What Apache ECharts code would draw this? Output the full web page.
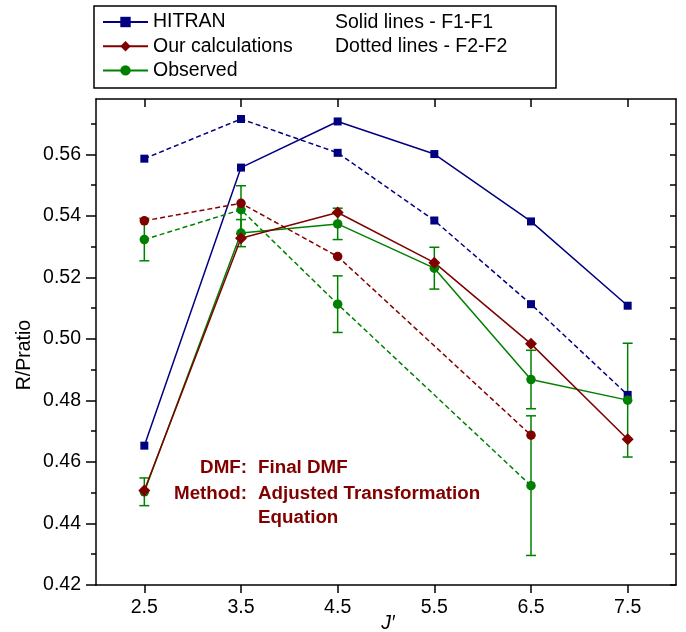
<!DOCTYPE html>
<html>
<head>
<meta charset="utf-8">
<script src="https://cdn.jsdelivr.net/npm/echarts@6/dist/echarts.min.js"></script>
<style>
html,body{margin:0;padding:0;background:#fff;}
#chart{width:686px;height:632px;}
</style>
</head>
<body>
<div id="chart"></div>
<script>
// ---- data ----
var jValues = [2.5, 3.5, 4.5, 5.5, 6.5, 7.5];
var hitranF1 = [0.4653, 0.5557, 0.5707, 0.5601, 0.5382, 0.5108];
var hitranF2 = [0.5586, 0.5715, 0.5605, 0.5385, 0.5113, 0.4818];
var calcF1 = [0.4507, 0.5327, 0.5411, 0.5248, 0.4984, 0.4674];
var calcF2 = [0.5384, 0.5441, 0.5268, null, 0.4687, null];
var obsF1 = [0.4503, 0.5344, 0.5374, 0.5230, 0.4868, 0.4801];
var obsF1Err = [0.0045, 0.0044, 0.0051, 0.0068, 0.0095, 0.0185];
var obsF2 = [0.5323, 0.5420, 0.5113, null, 0.4523, null];
var obsF2Err = [0.0069, 0.0078, 0.0092, null, 0.0227, null];
var xTicks = [2.5, 3.5, 4.5, 5.5, 6.5, 7.5];
var yTicks = [0.42, 0.44, 0.46, 0.48, 0.50, 0.52, 0.54, 0.56];
var yMinorTicks = [0.43, 0.45, 0.47, 0.49, 0.51, 0.53, 0.55, 0.57];
var legendNames = ['HITRAN', 'Our calculations', 'Observed'];
var noteLabels = ['DMF:', 'Method:'];
var noteValues = ['Final DMF', 'Adjusted Transformation', 'Equation'];
var sideNotes = ['Solid lines - F1-F1', 'Dotted lines - F2-F2'];
var xTitle = 'J\u2032';
var yTitle = 'R/Pratio';

// ---- helpers ----
var BLUE = '#000080', RED = '#800000', GREEN = '#008000';
var FONT = 'Liberation Sans, Arial, sans-serif';
var FS = 19.5;
function pairs(ys) { return jValues.map(function (x, i) { return [x, ys[i]]; }); }
function errData(ys, es) {
  var out = [];
  jValues.forEach(function (x, i) { if (ys[i] != null && es[i] != null) out.push([x, ys[i], es[i]]); });
  return out;
}
function lineSeries(name, ys, color, symbol, size, dashed) {
  return {
    type: 'line', name: name, data: pairs(ys), connectNulls: true,
    symbol: symbol, symbolSize: size,
    itemStyle: { color: color },
    lineStyle: { color: color, width: 1.5, type: dashed ? [5, 3] : 'solid' },
    emphasis: { disabled: true }, silent: true
  };
}
function errSeries(name, ys, es, color) {
  return {
    type: 'custom', name: name, data: errData(ys, es),
    encode: { x: 0, y: 1 }, silent: true,
    renderItem: function (params, api) {
      var x = api.value(0), y = api.value(1), e = api.value(2);
      var top = api.coord([x, y + e]), bot = api.coord([x, y - e]);
      var hw = 5;
      var st = { stroke: color, lineWidth: 1.5 };
      return { type: 'group', children: [
        { type: 'line', shape: { x1: top[0], y1: top[1], x2: bot[0], y2: bot[1] }, style: st },
        { type: 'line', shape: { x1: top[0] - hw, y1: top[1], x2: top[0] + hw, y2: top[1] }, style: st },
        { type: 'line', shape: { x1: bot[0] - hw, y1: bot[1], x2: bot[0] + hw, y2: bot[1] }, style: st }
      ] };
    }
  };
}
var axisLineStyle = { show: true, lineStyle: { color: '#000', width: 1.5 } };

var chart = echarts.init(document.getElementById('chart'), null, { renderer: 'canvas' });
chart.setOption({
  animation: false,
  backgroundColor: '#fff',
  textStyle: { fontFamily: FONT },
  grid: { left: 96, right: 10, top: 99, bottom: 47, containLabel: false, outerBoundsMode: 'none' },
  legend: {
    data: legendNames, orient: 'vertical', left: 102, top: 12, padding: 0,
    itemWidth: 45, itemHeight: 13, itemGap: 4.2,
    textStyle: { fontSize: FS, color: '#000', fontFamily: FONT, lineHeight: 19.5 },
    selectedMode: false
  },
  xAxis: [
    {
      type: 'value', position: 'bottom', min: 2, max: 8,
      axisLine: axisLineStyle,
      axisTick: { show: true, inside: false, length: 8, customValues: xTicks, lineStyle: { color: '#000', width: 1.5 } },
      axisLabel: { customValues: xTicks, fontSize: FS, color: '#000', fontFamily: FONT, margin: 13,
        formatter: function (v) { return v.toFixed(1); } },
      splitLine: { show: false }
    },
    {
      type: 'value', position: 'top', min: 2, max: 8,
      axisLine: axisLineStyle,
      axisTick: { show: true, inside: true, length: 8, customValues: xTicks, lineStyle: { color: '#000', width: 1.5 } },
      axisLabel: { show: false }, splitLine: { show: false }
    }
  ],
  yAxis: [
    {
      type: 'value', position: 'left', min: 0.42, max: 0.578,
      axisLine: axisLineStyle,
      axisTick: { show: true, inside: false, length: 10, customValues: yTicks, lineStyle: { color: '#000', width: 1.5 } },
      axisLabel: { customValues: yTicks, fontSize: FS, color: '#000', fontFamily: FONT, margin: 15,
        formatter: function (v) { return v.toFixed(2); } },
      splitLine: { show: false }
    },
    {
      type: 'value', position: 'left', min: 0.42, max: 0.578,
      axisLine: { show: false },
      axisTick: { show: true, inside: false, length: 5, customValues: yMinorTicks, lineStyle: { color: '#000', width: 1.5 } },
      axisLabel: { show: false }, splitLine: { show: false }
    },
    {
      type: 'value', position: 'right', min: 0.42, max: 0.578,
      axisLine: axisLineStyle,
      axisTick: { show: true, inside: true, length: 6, customValues: yTicks.concat(yMinorTicks), lineStyle: { color: '#000', width: 1.5 } },
      axisLabel: { show: false }, splitLine: { show: false }
    }
  ],
  series: [
    lineSeries('HITRAN', hitranF1, BLUE, 'rect', 8, false),
    lineSeries('HITRAN', hitranF2, BLUE, 'rect', 8, true),
    errSeries('obsF1err', obsF1, obsF1Err, GREEN),
    errSeries('obsF2err', obsF2, obsF2Err, GREEN),
    lineSeries('Observed', obsF1, GREEN, 'circle', 9.5, false),
    lineSeries('Observed', obsF2, GREEN, 'circle', 9.5, true),
    lineSeries('Our calculations', calcF1, RED, 'diamond', 12, false),
    lineSeries('Our calculations', calcF2, RED, 'circle', 9.5, true)
  ],
  graphic: [
    { type: 'rect', silent: true, shape: { x: 94, y: 6, width: 462, height: 82 },
      style: { fill: 'none', stroke: '#000', lineWidth: 1.5 } },
    { type: 'text', silent: true, x: 335, y: 23, style: { text: sideNotes[0], font: FS + 'px ' + FONT, fill: '#000', verticalAlign: 'middle' } },
    { type: 'text', silent: true, x: 335, y: 47, style: { text: sideNotes[1], font: FS + 'px ' + FONT, fill: '#000', verticalAlign: 'middle' } },
    { type: 'text', silent: true, x: 25, y: 355, rotation: Math.PI / 2,
      style: { text: yTitle, font: FS + 'px ' + FONT, fill: '#000', align: 'center', verticalAlign: 'middle' } },
    { type: 'text', silent: true, x: 388, y: 624, z: 10,
      style: { text: xTitle, font: 'italic ' + FS + 'px ' + FONT, fill: '#000', align: 'center', verticalAlign: 'middle' } },
    { type: 'text', silent: true, x: 247, y: 468, style: { text: noteLabels[0], font: 'bold 18.8px ' + FONT, fill: RED, align: 'right', verticalAlign: 'middle' } },
    { type: 'text', silent: true, x: 247, y: 494, style: { text: noteLabels[1], font: 'bold 18.8px ' + FONT, fill: RED, align: 'right', verticalAlign: 'middle' } },
    { type: 'text', silent: true, x: 258, y: 468, style: { text: noteValues[0], font: 'bold 18.8px ' + FONT, fill: RED, verticalAlign: 'middle' } },
    { type: 'text', silent: true, x: 258, y: 494, style: { text: noteValues[1], font: 'bold 18.8px ' + FONT, fill: RED, verticalAlign: 'middle' } },
    { type: 'text', silent: true, x: 258, y: 518, style: { text: noteValues[2], font: 'bold 18.8px ' + FONT, fill: RED, verticalAlign: 'middle' } }
  ]
});
</script>
</body>
</html>
